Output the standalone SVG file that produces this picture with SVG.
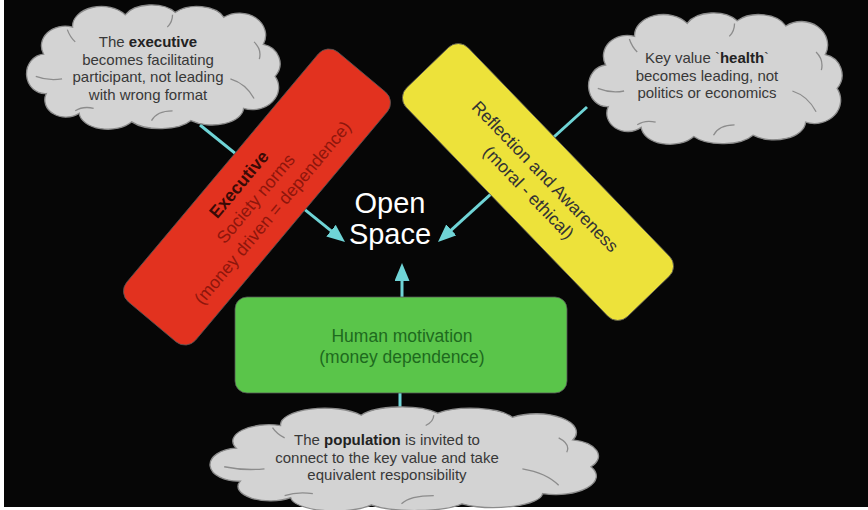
<svg xmlns="http://www.w3.org/2000/svg" xmlns:xlink="http://www.w3.org/1999/xlink" width="868" height="510" viewBox="0 0 868 510">
<style>
.cloud{fill:#d3d3d3;stroke:#8c8c8c;stroke-width:1.3;vector-effect:non-scaling-stroke}
.cline{fill:none;stroke:#8c8c8c;stroke-width:1.3;vector-effect:non-scaling-stroke}
.ct{font-family:"Liberation Sans",Arial,sans-serif;font-size:15px;fill:#383838;text-anchor:middle}
.b{font-weight:bold;fill:#222}
.conn{stroke:#6fd4d6;stroke-width:3;fill:none}
.box{stroke:#555;stroke-width:0.8}
.bt{font-family:"Liberation Sans",Arial,sans-serif;font-size:17.5px;text-anchor:middle}
</style>
<defs>
<path id="cloud" class="cloud" d="M18,40 A18,16 0 0 1 40,18 A22,16 0 0 1 80,8 A22,14 0 0 1 118,6 A22,14 0 0 1 155,10 A20,18 0 0 1 185,32 A16,16 0 0 1 194,58 A20,18 0 0 1 170,84 A24,14 0 0 1 130,94 A26,12 0 0 1 85,95 A22,14 0 0 1 45,88 A16,14 0 0 1 20,72 A14,16 0 0 1 18,40 Z"/>
<path id="clines" class="cline" d="M12,58 Q22,62 32,60 M36,20 Q38,26 42,30 M178,30 Q184,36 182,44 M160,60 Q172,64 178,76 M100,94 Q104,86 116,86 M42,86 Q48,82 56,84 M116,8 Q116,14 112,18"/>
<marker id="ah" viewBox="0 0 18 15" refX="5" refY="7.5" markerWidth="18" markerHeight="15" markerUnits="userSpaceOnUse" orient="auto">
<path d="M0,0 L18,7.5 L0,15 Z" fill="#6fd4d6"/>
</marker>
</defs>
<rect x="0" y="0" width="868" height="510" fill="#ffffff"/>
<rect x="4" y="0" width="864" height="507" fill="#060606"/>

<g id="connectors">
<line class="conn" x1="200" y1="125" x2="334.9" y2="233.8" marker-end="url(#ah)"/>
<line class="conn" x1="587" y1="107" x2="447.6" y2="233.3" marker-end="url(#ah)"/>
<line class="conn" x1="402" y1="297" x2="402" y2="276" marker-end="url(#ah)"/>
<line class="conn" x1="400" y1="414" x2="400" y2="390"/>
</g>

<g id="cloud-executive">
<use xlink:href="#cloud" transform="translate(20,5) scale(1.315,1.23)"/>
<use xlink:href="#clines" transform="translate(20,5) scale(1.315,1.23)"/>
<text class="ct" x="148" y="47">The <tspan class="b">executive</tspan></text>
<text class="ct" x="148" y="64.5">becomes facilitating</text>
<text class="ct" x="148" y="82">participant, not leading</text>
<text class="ct" x="148" y="99.5">with wrong format</text>
</g>

<g id="cloud-health">
<use xlink:href="#cloud" transform="translate(582,13) scale(1.315,1.3)"/>
<use xlink:href="#clines" transform="translate(582,13) scale(1.315,1.3)"/>
<text class="ct" x="707" y="63">Key value `<tspan class="b">health</tspan>`</text>
<text class="ct" x="707" y="80.5">becomes leading, not</text>
<text class="ct" x="707" y="98">politics or economics</text>
</g>

<g id="cloud-population">
<use xlink:href="#cloud" transform="translate(200,407) scale(2.015,1.03)"/>
<use xlink:href="#clines" transform="translate(200,407) scale(2.015,1.03)"/>
<text class="ct" x="387" y="445">The <tspan class="b">population</tspan> is invited to</text>
<text class="ct" x="387" y="462.5">connect to the key value and take</text>
<text class="ct" x="387" y="480">equivalent responsibility</text>
</g>

<g id="executive" transform="translate(257,197) rotate(-50)">
<rect class="box" x="-163" y="-45" width="326" height="90" rx="14" fill="#e2321f"/>
<text class="bt" x="-2" y="-16" font-weight="bold" fill="#3a0a06">Executive</text>
<text class="bt" x="-2" y="6" fill="#8e160c">Society norms</text>
<text class="bt" x="-2" y="28" fill="#8e160c">(money driven = dependence)</text>
</g>

<g id="reflection" transform="translate(538,182) rotate(46)">
<rect class="box" x="-159" y="-43" width="318" height="86" rx="14" fill="#ede23a"/>
<text class="bt" x="1" y="-3" fill="#333">Reflection and Awareness</text>
<text class="bt" x="1" y="20" fill="#333">(moral - ethical)</text>
</g>

<g id="human-motivation">
<rect class="box" x="235" y="297" width="332" height="96" rx="12" fill="#5ac54a"/>
<text class="bt" x="402" y="342" fill="#1e6a1e">Human motivation</text>
<text class="bt" x="402" y="363" fill="#1e6a1e">(money dependence)</text>
</g>

<g id="open-space">
<text x="390" y="213" font-family="'Liberation Sans',Arial,sans-serif" font-size="29" fill="#ffffff" text-anchor="middle">Open</text>
<text x="390" y="244" font-family="'Liberation Sans',Arial,sans-serif" font-size="29" fill="#ffffff" text-anchor="middle">Space</text>
</g>
</svg>
